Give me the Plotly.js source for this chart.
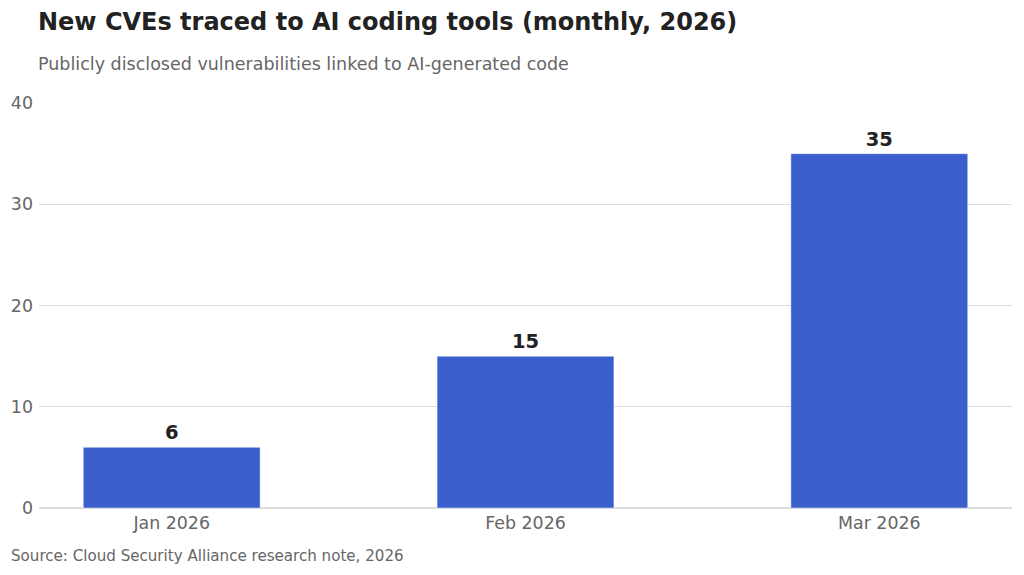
<!DOCTYPE html>
<html>
<head>
<meta charset="utf-8">
<script src="https://cdn.plot.ly/plotly-3.0.1.min.js"></script>
<style>
  html, body { margin: 0; padding: 0; background: #fff; }
  #chart { width: 1024px; height: 575px; }
</style>
</head>
<body>
<div id="chart"></div>
<script>
var months = ['Jan 2026', 'Feb 2026', 'Mar 2026'];
var cves = [6, 15, 35];
var yTicks = [0, 10, 20, 30, 40];

var trace = {
  x: months,
  y: cves,
  type: 'bar',
  width: 0.5,
  marker: { color: '#3a5fcd', line: { color: '#ffffff', width: 0.5 } },
  text: cves.map(String),
  textposition: 'outside',
  cliponaxis: false,
  textfont: { family: 'DejaVu Sans', size: 19.5, color: '#222222', weight: 'bold' },
  hoverinfo: 'x+y'
};

var layout = {
  width: 1024,
  height: 575,
  margin: { l: 39, r: 12, t: 103, b: 67 },
  paper_bgcolor: '#ffffff',
  plot_bgcolor: '#ffffff',
  font: { family: 'DejaVu Sans', color: '#666666' },
  showlegend: false,
  title: { text: '' },
  xaxis: {
    type: 'category',
    range: [-0.375, 2.375],
    showgrid: false,
    zeroline: false,
    showline: false,
    ticks: '',
    ticklabelstandoff: 3,
    tickfont: { family: 'DejaVu Sans', size: 17.4, color: '#666666' }
  },
  yaxis: {
    range: [0, 40],
    tickvals: yTicks,
    showgrid: true,
    gridcolor: '#dddddd',
    gridwidth: 1,
    zeroline: true,
    zerolinecolor: '#dddddd',
    zerolinewidth: 1.5,
    showline: false,
    ticks: '',
    ticklabelstandoff: 5,
    tickfont: { family: 'DejaVu Sans', size: 17.4, color: '#666666' }
  },
  annotations: [
    {
      text: '<b>New CVEs traced to AI coding tools (monthly, 2026)</b>',
      xref: 'paper', yref: 'paper', x: 0, y: 1,
      xanchor: 'left', yanchor: 'bottom', xshift: -3, yshift: 65,
      showarrow: false,
      font: { family: 'DejaVu Sans', size: 24, color: '#222222' }
    },
    {
      text: 'Publicly disclosed vulnerabilities linked to AI-generated code',
      xref: 'paper', yref: 'paper', x: 0, y: 1,
      xanchor: 'left', yanchor: 'bottom', xshift: -3, yshift: 27,
      showarrow: false,
      font: { family: 'DejaVu Sans', size: 17.5, color: '#666666' }
    },
    {
      text: 'Source: Cloud Security Alliance research note, 2026',
      xref: 'paper', yref: 'paper', x: 0, y: 0,
      xanchor: 'left', yanchor: 'top', xshift: -30, yshift: -37,
      showarrow: false,
      font: { family: 'DejaVu Sans', size: 15.1, color: '#666666' }
    }
  ]
};

Plotly.newPlot('chart', [trace], layout, { displayModeBar: false, staticPlot: true });
</script>
</body>
</html>
